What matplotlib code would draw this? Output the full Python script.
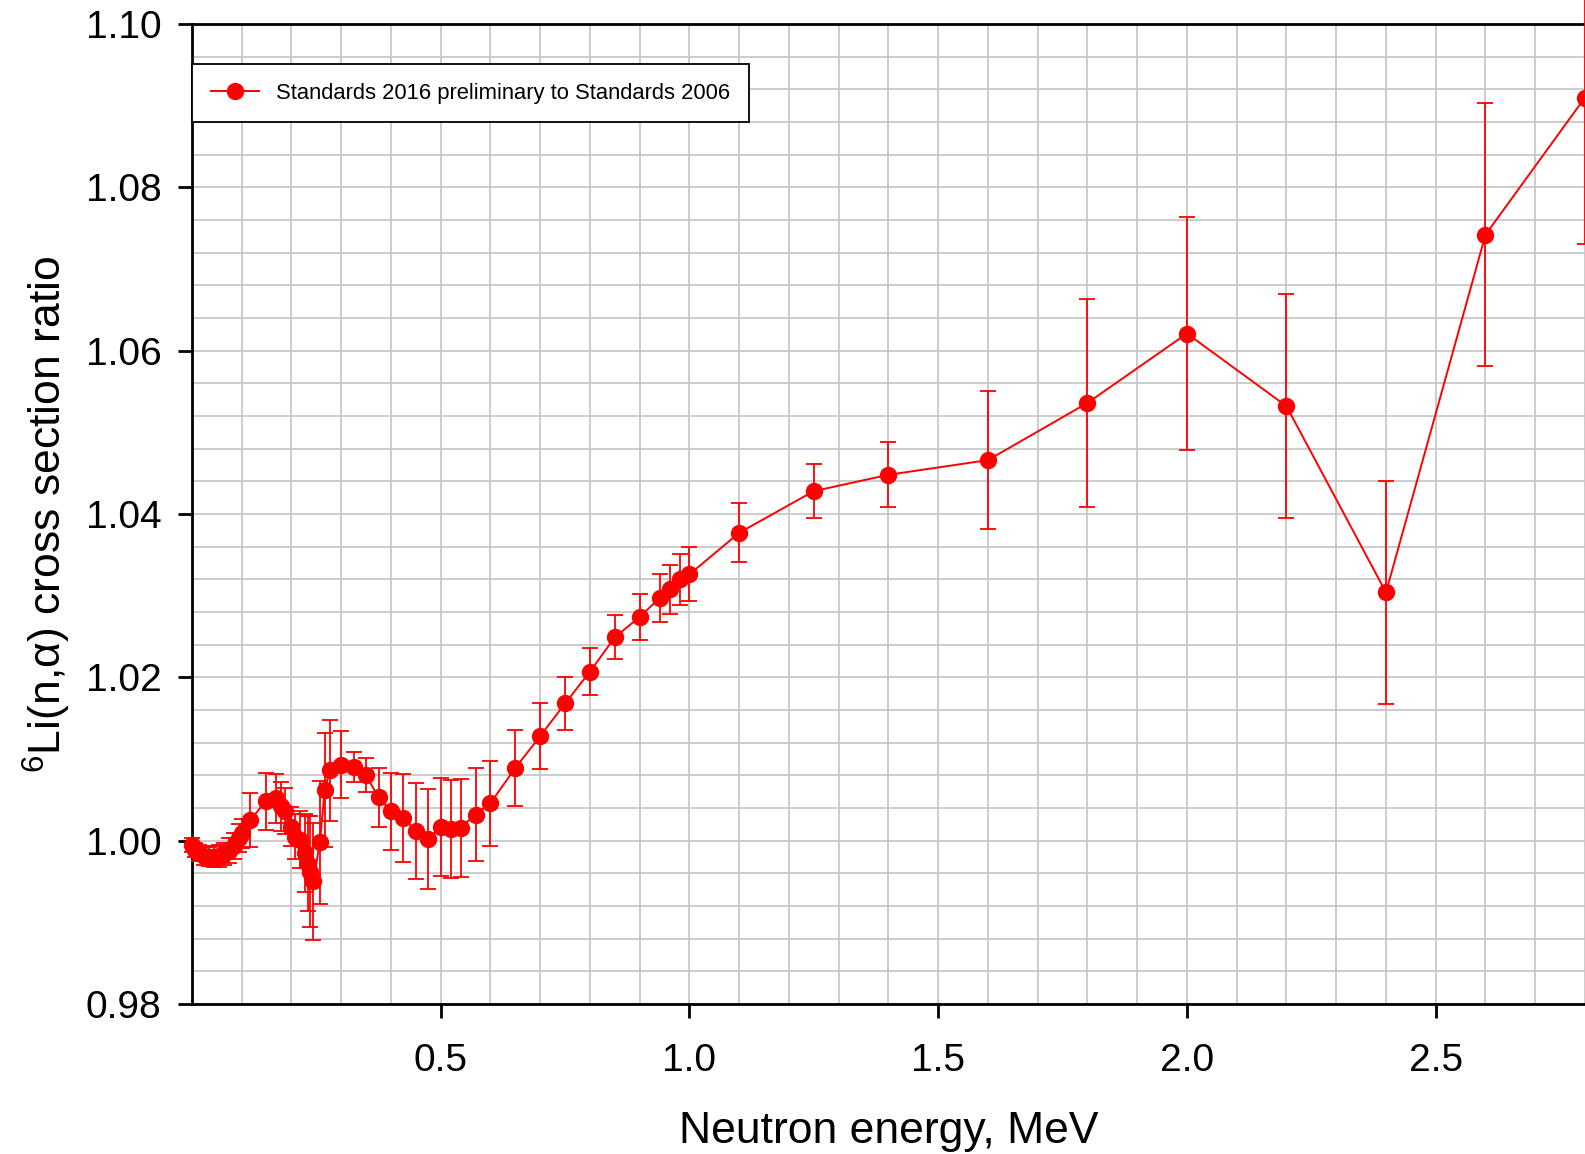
import matplotlib
matplotlib.use("Agg")
import matplotlib.pyplot as plt
from matplotlib.ticker import MultipleLocator

plt.rcParams['font.family'] = ['Liberation Sans', 'DejaVu Sans']
plt.rcParams['mathtext.fontset'] = 'custom'
plt.rcParams['mathtext.rm'] = 'Liberation Sans'

# Neutron energy (MeV), ratio and uncertainty
energy = [0.0, 0.0067, 0.0134, 0.0235, 0.0335, 0.0436, 0.0536, 0.0636, 0.0737, 0.0837,
          0.0938, 0.100, 0.117, 0.148, 0.168, 0.180, 0.188, 0.199, 0.207, 0.217,
          0.227, 0.234, 0.238, 0.244, 0.257, 0.267, 0.277, 0.300, 0.325, 0.350,
          0.375, 0.400, 0.425, 0.450, 0.475, 0.500, 0.520, 0.540, 0.570, 0.600,
          0.650, 0.700, 0.750, 0.800, 0.850, 0.900, 0.940, 0.960, 0.980, 1.000,
          1.100, 1.250, 1.400, 1.600, 1.800, 2.000, 2.200, 2.400, 2.600, 2.800]
ratio = [0.99947, 0.99886, 0.99846, 0.99813, 0.99804, 0.99804, 0.99813, 0.99837, 0.99878, 0.99935,
         1.0003, 1.0009, 1.0025, 1.0048, 1.0052, 1.0042, 1.0036, 1.0017, 1.0005, 1.0001,
         0.9985, 0.9972, 0.9962, 0.9950, 0.9998, 1.0062, 1.0086, 1.0093, 1.0090, 1.0080,
         1.0053, 1.0036, 1.0028, 1.0012, 1.0002, 1.0017, 1.0014, 1.0016, 1.0032, 1.0046,
         1.0089, 1.0128, 1.0168, 1.0207, 1.0249, 1.0274, 1.0297, 1.0308, 1.0320, 1.0326,
         1.0377, 1.0428, 1.0448, 1.0466, 1.0536, 1.0621, 1.0532, 1.0304, 1.0742, 1.0910]
uncert = [0.0008, 0.0009, 0.0010, 0.0011, 0.0012, 0.0013, 0.0013, 0.0014, 0.0015, 0.0016,
          0.0017, 0.0018, 0.0033, 0.0035, 0.0030, 0.0030, 0.0028, 0.0024, 0.0028, 0.0035,
          0.0048, 0.0058, 0.0068, 0.0072, 0.0075, 0.0070, 0.0062, 0.0041, 0.0018, 0.0021,
          0.0036, 0.0047, 0.0054, 0.0059, 0.0061, 0.0060, 0.0060, 0.0060, 0.0057, 0.0052,
          0.0047, 0.0040, 0.0033, 0.0029, 0.0027, 0.0028, 0.0029, 0.0030, 0.0031, 0.0033,
          0.0036, 0.0033, 0.0040, 0.0084, 0.0127, 0.0143, 0.0137, 0.0137, 0.0161, 0.0180]

label = "Standards 2016 preliminary to Standards 2006"
red = '#ff0000'

fig = plt.figure(figsize=(15.85, 11.54), dpi=100)
ax = fig.add_axes([0.1211, 0.1300, 0.8789, 0.8492])

# error bars first, then the line with markers (which carries the legend entry)
ax.errorbar(energy, ratio, yerr=uncert, fmt='none', ecolor=red, elinewidth=1.3,
            capsize=6, capthick=1.3, zorder=3, clip_on=False)
ax.plot(energy, ratio, color=red, marker='o', markersize=11.5, linewidth=1.4,
        label=label, zorder=4, clip_on=False)

ax.set_xlim(0, 2.8)
ax.set_ylim(0.98, 1.10)
ax.xaxis.set_minor_locator(MultipleLocator(0.1))
ax.yaxis.set_major_locator(MultipleLocator(0.02))
ax.yaxis.set_minor_locator(MultipleLocator(0.004))
ax.set_xticks([0.5, 1.0, 1.5, 2.0, 2.5])
ax.xaxis.set_major_formatter(plt.FormatStrFormatter('%.1f'))
ax.yaxis.set_major_formatter(plt.FormatStrFormatter('%.2f'))

ax.grid(True, which='both', color='#c8c8c8', linewidth=1.3, zorder=0)
ax.set_axisbelow(True)
ax.tick_params(which='major', direction='out', length=10, width=2, labelsize=28)
ax.tick_params(axis='x', which='major', pad=18)
ax.tick_params(axis='y', which='major', pad=12)
ax.tick_params(which='minor', length=0)

for side in ['left', 'bottom', 'top']:
    ax.spines[side].set_linewidth(2)
ax.spines['right'].set_visible(False)

ax.set_xlabel("Neutron energy, MeV", fontsize=32, labelpad=23)
ax.set_ylabel(r"$\mathrm{^{6}}$Li(n,α) cross section ratio", fontsize=32, labelpad=9)

leg = ax.legend(loc='upper left', bbox_to_anchor=(0.0, 0.959), borderaxespad=0,
                fontsize=15.8, fancybox=False, framealpha=1, edgecolor='black',
                handlelength=2.2, borderpad=0.85, handletextpad=0.8)
leg.get_frame().set_linewidth(1.3)

fig.savefig("out.png", dpi=100)
